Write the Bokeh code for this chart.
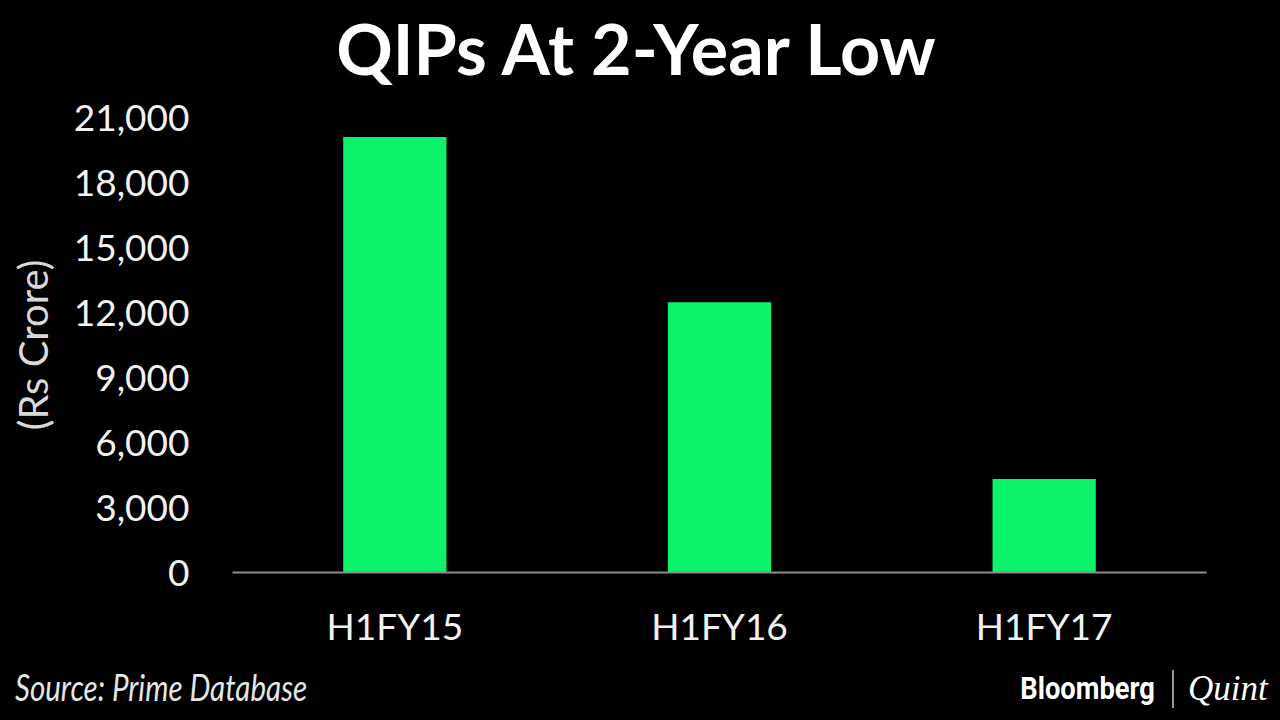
from bokeh.plotting import figure
from bokeh.models import NumeralTickFormatter, FixedTicker, Range1d, FactorRange, Div
from bokeh.layouts import column
from bokeh.embed import file_html
from bokeh.resources import INLINE

categories = ["H1FY15", "H1FY16", "H1FY17"]
values = [20100, 12470, 4310]
y_ticks = [0, 3000, 6000, 9000, 12000, 15000, 18000, 21000]

title_text = "QIPs At 2-Year Low"
y_label = "(Rs Crore)"
source_text = "Source: Prime Database"
brand_left = "Bloomberg"
brand_right = "Quint"

BG = "#000000"
BAR = "#0CF26A"
FONT = "Lato"
W = 1280
H_HEAD, H_MAIN, H_FOOT = 90, 560, 70

# header with the title
head_html = (
    f'<div style="position:relative;width:{W}px;height:{H_HEAD}px;">'
    f'<span style="position:absolute;left:0;width:1272px;top:48px;transform:translateY(-50%);'
    f'text-align:center;line-height:1;font-family:Lato;font-weight:bold;font-size:70px;'
    f'color:#FFFFFF;white-space:nowrap;">{title_text}</span></div>'
)
head = Div(text=head_html, width=W, height=H_HEAD, margin=0, styles={"background-color": BG})

# main bar chart
p = figure(width=W, height=H_MAIN, x_range=FactorRange(*categories), y_range=Range1d(0, 21000),
           output_backend="svg", toolbar_location=None,
           background_fill_color=BG, border_fill_color=BG, outline_line_color=None,
           min_border_left=232, min_border_right=74, min_border_top=27, min_border_bottom=76)
p.x_range.range_padding = 0
p.vbar(x=categories, top=values, width=0.318, fill_color=BAR, line_color=None)

p.xgrid.visible = False
p.ygrid.visible = False

p.yaxis.ticker = FixedTicker(ticks=y_ticks)
p.yaxis.formatter = NumeralTickFormatter(format="0,0")
p.yaxis.axis_line_color = None
p.yaxis.major_tick_line_color = None
p.yaxis.minor_tick_line_color = None
p.yaxis.major_label_text_color = "#F2F2F2"
p.yaxis.major_label_text_font = FONT
p.yaxis.major_label_text_font_size = "37px"
p.yaxis.major_label_standoff = 37
p.yaxis.axis_label = y_label
p.yaxis.axis_label_text_color = "#D9D9D9"
p.yaxis.axis_label_text_font = FONT
p.yaxis.axis_label_text_font_style = "normal"
p.yaxis.axis_label_text_font_size = "40px"
p.yaxis.axis_label_standoff = 14

p.xaxis.axis_line_color = "#8C8C8C"
p.xaxis.axis_line_width = 2
p.xaxis.major_tick_line_color = None
p.xaxis.minor_tick_line_color = None
p.xaxis.major_label_text_color = "#F2F2F2"
p.xaxis.major_label_text_font = FONT
p.xaxis.major_label_text_font_size = "37px"
p.xaxis.major_label_standoff = 24

# footer with source and brand
foot_html = (
    f'<div style="position:relative;width:{W}px;height:{H_FOOT}px;">'
    f'<span style="position:absolute;left:15px;top:37px;transform:translateY(-50%) scaleX(0.82);'
    f'transform-origin:left center;line-height:1;font-family:Lato;font-style:italic;font-size:36px;'
    f'color:#E6E6E6;white-space:nowrap;">{source_text}</span>'
    f'<span style="position:absolute;right:125px;top:38px;transform:translateY(-50%) scaleX(0.88);'
    f'transform-origin:right center;line-height:1;font-family:Roboto;font-weight:bold;font-size:31px;'
    f'color:#FFFFFF;white-space:nowrap;">{brand_left}</span>'
    f'<span style="position:absolute;left:1172px;top:20px;width:0;height:38px;'
    f'border-left:2px solid #9A9A9A;"></span>'
    f'<span style="position:absolute;left:1188px;top:38px;transform:translateY(-50%);'
    f'line-height:1;font-family:\'Liberation Serif\';font-style:italic;font-size:35px;'
    f'color:#FFFFFF;white-space:nowrap;">{brand_right}</span></div>'
)
foot = Div(text=foot_html, width=W, height=H_FOOT, margin=0, styles={"background-color": BG})

layout = column(head, p, foot, spacing=0, styles={"background-color": BG})
open("out.html", "w").write(file_html(layout, INLINE))
